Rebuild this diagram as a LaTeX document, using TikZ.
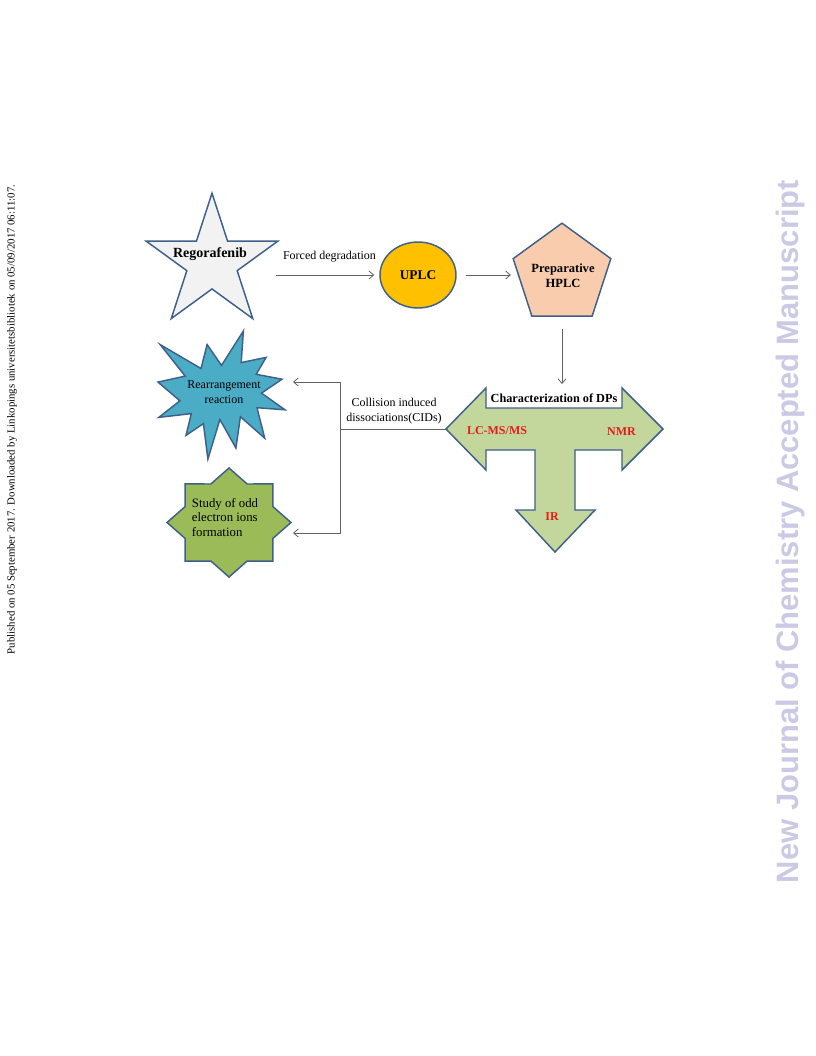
\documentclass[tikz,border=0pt]{standalone}
\usepackage{fontspec}
\setmainfont{Liberation Serif}
\newfontfamily\jsans{Liberation Sans}
\usetikzlibrary{shapes.geometric,arrows.meta,positioning}

\definecolor{rim}{RGB}{62,96,138}
\definecolor{regfill}{RGB}{242,242,242}
\definecolor{uplcfill}{RGB}{255,192,0}
\definecolor{hplcfill}{RGB}{250,204,174}
\definecolor{tfill}{RGB}{195,214,155}
\definecolor{sealfill}{RGB}{75,172,198}
\definecolor{oddfill}{RGB}{155,187,89}
\definecolor{dpred}{RGB}{228,28,28}
\definecolor{jlav}{RGB}{202,202,228}

\tikzstyle{shp}=[draw=rim, line width=1.1pt, inner sep=0pt]
\tikzstyle{flow}=[draw=black!62, line width=0.6pt, -{Straight Barb[length=3.5pt,width=6pt]}]
\tikzstyle{line}=[draw=black!62, line width=0.6pt]
\tikzstyle{txt}=[font=\fontsize{9}{11.2}\selectfont, align=center, inner sep=0pt]
\tikzstyle{btxt}=[font=\fontsize{9.4}{11.2}\selectfont\bfseries, align=center, inner sep=0pt]

\begin{document}
\begin{tikzpicture}[x=0.75pt,y=-0.75pt]
        \useasboundingbox (0,0) rectangle (816,1056);
        \tikzstyle{regstar}=[shp, star, star points=5, star point ratio=2.62, minimum size=104pt, fill=regfill]
        \tikzstyle{redtxt}=[btxt, font=\fontsize{9}{11}\selectfont\bfseries, text=dpred]
        %
        \draw (212,262.5) node[regstar](reg){};
        \draw (210,254) node[btxt, font=\fontsize{10.5}{12}\selectfont\bfseries](regtxt){Regorafenib};
        \draw (418,275) node[shp, ellipse, minimum width=57pt, minimum height=49.5pt, fill=uplcfill, font=\fontsize{10}{12}\selectfont\bfseries](uplc){UPLC};
        \draw (562,274.5) node[shp, regular polygon, regular polygon sides=5, minimum size=77pt, fill=hplcfill](hplc){};
        \draw (563,275.5) node[btxt](hplctxt){Preparative\\HPLC};
        \draw (329.5,257) node[txt](forced){Forced degradation};
        \coordinate (regout) at (276,275);
        %
        \draw[shp, fill=tfill] (446,429) -- (486,388) -- (486,408) -- (622,408) -- (622,388) -- (663,429)
            -- (622,470) -- (622,450) -- (575,450) -- (575,510) -- (595,510) -- (555,552) -- (516,510)
            -- (535,510) -- (535,450) -- (486,450) -- (486,470) -- cycle;
        \coordinate (ttip) at (446,429);
        \draw (554,398) node[btxt, font=\fontsize{9.2}{11}\selectfont\bfseries](dps){Characterization of DPs};
        \draw (497,431) node[redtxt](lcms){LC-MS/MS};
        \draw (621.5,432) node[redtxt](nmr){NMR};
        \draw (552,517) node[redtxt](ir){IR};
        %
        \draw[shp, fill=sealfill] (221.5,365.4) -- (243.4,331) -- (241.2,362.6) -- (266.1,357.4) -- (256.2,374.3)
            -- (282,379.2) -- (261.5,393.1) -- (285,409.8) -- (257,407.7) -- (264.7,438.2) -- (240.4,416.7)
            -- (235.9,448) -- (219.9,419.5) -- (207.9,459) -- (203.4,423.6) -- (186,435.4) -- (191.3,413.6)
            -- (158.8,417.4) -- (179.9,400.8) -- (158,382.1) -- (185.2,376.1) -- (160.2,344.6) -- (201,368.5)
            -- (207.1,344.6) -- cycle;
        \draw (224,392.5) node[txt](rearr){Rearrangement\\reaction};
        \draw[shp, fill=oddfill] plot[samples=17, domain=0:16, variable=\k]
            ({229+(mod(\k,2)==0 ? 62 : 62*0.765)*cos(90+22.5*\k)}, {522.5-(mod(\k,2)==0 ? 54.5 : 54.5*0.765)*sin(90+22.5*\k)}) -- cycle;
        \draw (225,517.5) node[txt, align=left, font=\fontsize{9.6}{11}\selectfont](odd){Study of odd\\electron ions\\formation};
        %
        \draw (394,411) node[txt](cid){Collision induced\\dissociations(CIDs)};
        \coordinate (jn) at (340,429);
        \coordinate (rearrin) at (293,382);
        \coordinate (oddin) at (293,533);
        %
        \path
            (regout)        edge[flow, shorten >=3.75pt]                    (uplc.west)
            (uplc.east)     edge[flow, shorten <=6.75pt, shorten >=5pt]     (uplc.east -| hplc.west)
            (hplc.south)    edge[flow, shorten <=9pt, shorten >=7pt]        (hplc.south |- dps.north)
            (ttip)          edge[line]                                      (jn)
        ;
        \draw[flow] (jn) |- (rearrin);
        \draw[flow] (jn) |- (oddin);
        %
        \draw (12,419.5) node[rotate=90, inner sep=0pt, font=\fontsize{8.1}{8}\selectfont](pub){Published on 05 September 2017. Downloaded by Linkopings universitetsbibliotek on 05/09/2017 06:11:07.};
        \draw (790,531.5) node[rotate=90, inner sep=0pt, text=jlav, font=\jsans\bfseries\fontsize{23.2}{23}\selectfont](journal){New Journal of Chemistry Accepted Manuscript};
\end{tikzpicture}
\end{document}
